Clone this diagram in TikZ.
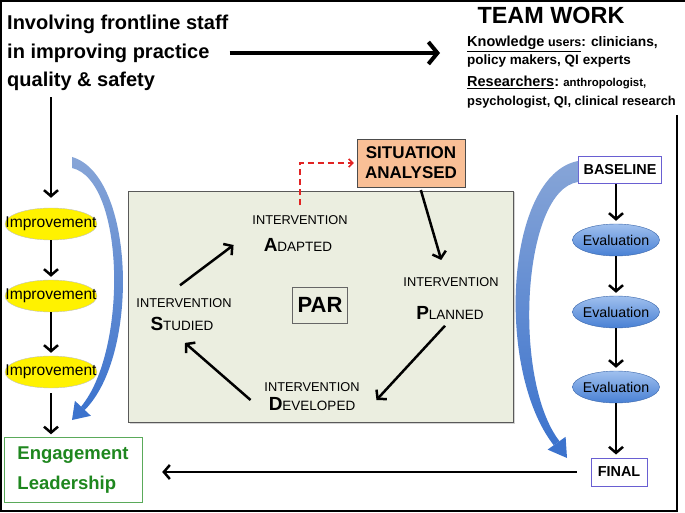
\documentclass[tikz,border=0pt]{standalone}
\usepackage{fontspec}
\setmainfont{Liberation Sans}
\usetikzlibrary{shapes.geometric,arrows.meta,shadows}
\definecolor{parfill}{RGB}{235,238,224}
\definecolor{sitfill}{RGB}{249,191,150}
\definecolor{impyellow}{RGB}{255,242,0}
\definecolor{evaltop}{RGB}{160,192,238}
\definecolor{evalbot}{RGB}{72,128,212}
\definecolor{rboxline}{RGB}{105,95,210}
\definecolor{enggreen}{RGB}{30,135,30}
\definecolor{engline}{RGB}{90,170,90}
\definecolor{curvtop}{RGB}{135,165,215}
\definecolor{curvbot}{RGB}{60,115,205}
\definecolor{dashred}{RGB}{225,35,35}
\newcommand{\fsz}[1]{\fontsize{#1}{#1}\selectfont}

\begin{document}
\begin{tikzpicture}[x=1pt,y=-1pt,
  blk/.style={line width=2.5pt,-{Straight Barb[length=6pt,width=14pt]}},
  bigarr/.style={line width=4pt,-{Straight Barb[length=9pt,width=22pt]}},
  ivn/.style={inner sep=1pt,font=\fsz{12.8}},
  impnode/.style={ellipse,draw=black!25,fill=impyellow,minimum width=92pt,minimum height=32pt,inner sep=0pt,font=\fsz{15.6}},
  evalnode/.style={ellipse,draw=evalbot!80!black,top color=evaltop,bottom color=evalbot,minimum width=87pt,minimum height=32pt,inner sep=0pt,font=\fsz{14.2}},
  rbox/.style={draw=rboxline,line width=1pt,fill=white,inner sep=0pt,font=\fsz{14.4}\bfseries}]
\useasboundingbox (0,0) rectangle (685,513);
\draw[line width=2pt] (677,115) -- (677,511) -- (1,511) -- (1,1) -- (685,1);

\node[anchor=west,inner sep=0pt,align=left,font={\fontsize{20}{28.5}\selectfont\bfseries}] (title) at (7,53) {Involving frontline staff\\in improving practice\\quality \& safety};
\node[inner sep=0pt,font=\fsz{23.4}\bfseries] (team) at (551,15) {TEAM WORK};
\node[anchor=base west,inner sep=0pt,font=\bfseries] (know) at (467,47) {\underline{\fsz{14.5}Knowledge\fsz{12.5} users}\fsz{13.8}: clinicians,};
\node[anchor=base west,inner sep=0pt,font=\fsz{13.5}\bfseries] (policy) at (467,65) {policy makers, QI experts};
\node[anchor=base west,inner sep=0pt,font=\bfseries] (resr) at (467,87) {\underline{\fsz{14.5}Researchers}\fsz{14.5}:\fsz{11.4} anthropologist,};
\node[anchor=base west,inner sep=0pt,font=\fsz{12.9}\bfseries] (psych) at (467,106) {psychologist, QI, clinical research};
\draw[bigarr,shorten <=1pt,shorten >=27pt] (title.east) -- (title.east -| know.west);

\node[impnode] (imp1) at (51,224) {\makebox[0pt]{Improvement}};
\node[impnode] (imp2) at (51,296) {\makebox[0pt]{Improvement}};
\node[impnode] (imp3) at (51,372) {\makebox[0pt]{Improvement}};
\node[draw=engline,fill=white,minimum width=138pt,minimum height=65pt,align=left,text=enggreen,font={\fontsize{18.5}{30}\selectfont\bfseries}] (eng) at (73,470) {Engagement\\Leadership};
\draw[blk,shorten <=6pt,shorten >=10pt] (imp1 |- title.south) -- (imp1.north);
\draw[blk,shorten >=3pt] (imp1) -- (imp2);
\draw[blk,shorten >=3pt] (imp2) -- (imp3);
\draw[blk,shorten <=5pt,shorten >=3pt] (imp3) -- (imp3 |- eng.north);

\node[draw=black!65,fill=parfill,minimum width=385pt,minimum height=231pt,drop shadow={opacity=0.35,shadow xshift=1.5pt,shadow yshift=-1.5pt}] (parea) at (320.5,306.5) {};
\node[draw=black!70,fill=sitfill,minimum width=108pt,minimum height=48pt,align=center,font={\fontsize{17}{20}\selectfont\bfseries}] (sit) at (411,163) {SITUATION\\ANALYSED};

\node[ivn] (adaptI) at (300,220) {INTERVENTION};
\node[ivn] (adaptW) at (298,245) {{\fsz{19}\bfseries A}\fsz{13.5}DAPTED};
\node[ivn] (planI) at (451,282) {INTERVENTION};
\node[ivn] (planW) at (450,313) {{\fsz{19}\bfseries P}\fsz{13.5}LANNED};
\node[ivn] (devI) at (312,387) {INTERVENTION};
\node[ivn] (devW) at (312,404) {{\fsz{19}\bfseries D}\fsz{13.5}EVELOPED};
\node[ivn] (studI) at (184,303) {INTERVENTION};
\node[ivn] (studW) at (182,324) {{\fsz{19}\bfseries S}\fsz{13.5}TUDIED};
\node[draw=black!60,minimum width=55pt,minimum height=36pt,inner sep=0pt,font=\fsz{22}\bfseries] (par) at (320,305) {PAR};

\draw[dashred,line width=1.5pt,dash pattern=on 6pt off 4pt,-{Straight Barb[length=4pt,width=8pt]},shorten <=9pt,shorten >=3pt] (adaptI.north) |- (sit.west);
\draw[blk,shorten <=3pt,shorten >=17pt] ([xshift=9pt]sit.south) -- ([xshift=-5pt]planI.north);
\draw[blk] ([xshift=-5pt,yshift=-5pt]planW.south) -- ([xshift=20pt,yshift=4pt]devW.east);
\draw[blk] ([xshift=-17pt,yshift=4pt]devW.west) -- ([xshift=3pt,yshift=-11pt]studW.south);
\draw[blk] ([xshift=-4pt,yshift=12pt]studI.north) -- ([xshift=-29pt]adaptW.west);

\node[rbox,minimum width=83pt,minimum height=27pt] (base) at (620,170) {BASELINE};
\node[evalnode] (ev1) at (616,240) {\makebox[0pt]{Evaluation}};
\node[evalnode] (ev2) at (616,312) {\makebox[0pt]{Evaluation}};
\node[evalnode] (ev3) at (616,387) {\makebox[0pt]{Evaluation}};
\node[rbox,minimum width=56pt,minimum height=28pt] (final) at (619,472) {FINAL};
\draw[blk,shorten >=3pt] (base.south -| ev1) -- (ev1.north);
\draw[blk,shorten >=3pt] (ev1) -- (ev2);
\draw[blk,shorten >=3pt] (ev2) -- (ev3);
\draw[blk,shorten >=3pt] (ev3) -- (ev3 |- final.north);
\draw[blk,shorten <=14pt,shorten >=20pt] (final.west) -- (final.west -| eng.east);

\shade[top color=curvtop,bottom color=curvbot] (72,157) .. controls (135,175) and (140,355) .. (84.7,410) -- (81.1,406.6) .. controls (128,350) and (125,180) .. (72,168) -- cycle;
\fill[curvbot] (90.9,415.8) -- (72,420) -- (74.9,400.8) -- cycle;
\shade[top color=curvtop,bottom color=curvbot] (578,161) .. controls (505,175) and (495,370) .. (553.7,445.2) -- (559.5,441.2) .. controls (512,380) and (522,190) .. (578,182) -- cycle;
\fill[curvbot] (565.6,436.8) -- (567,458) -- (547.6,449.6) -- cycle;
\end{tikzpicture}
\end{document}
